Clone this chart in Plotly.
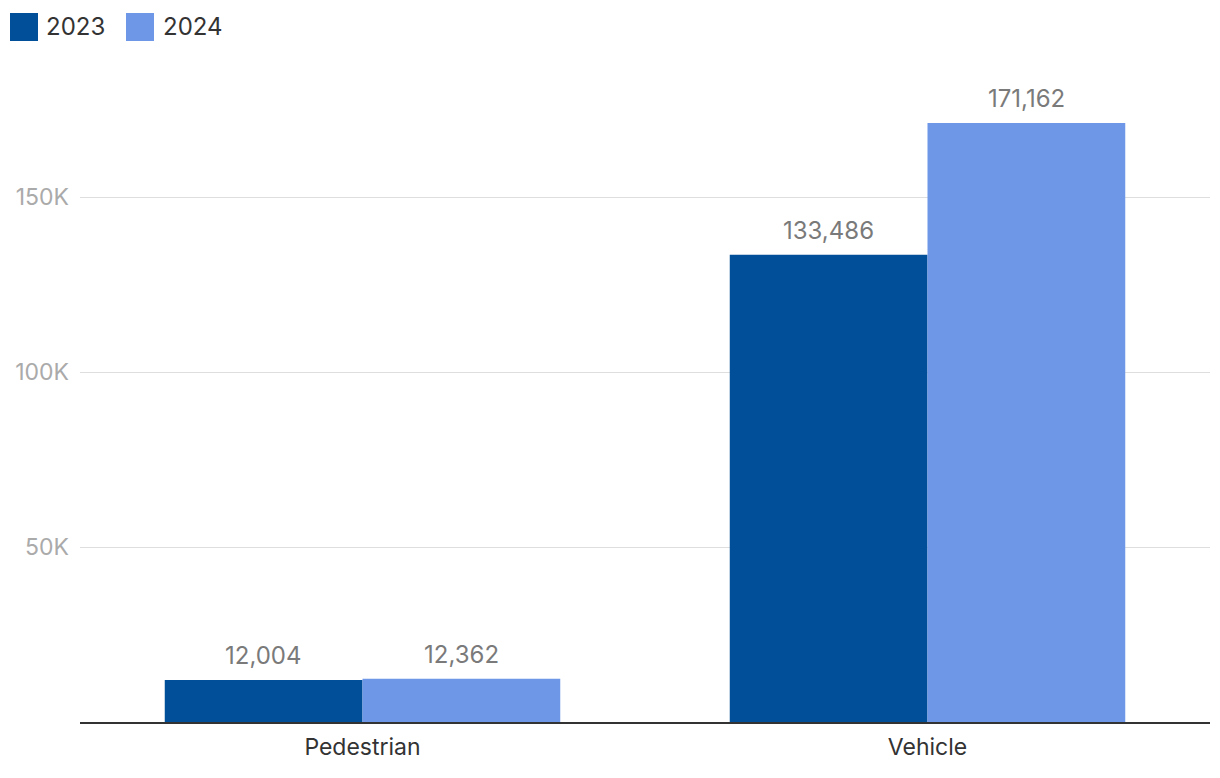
import plotly.graph_objects as go

categories = ["Pedestrian", "Vehicle"]
series_names = ["2023", "2024"]
values_2023 = [12004, 133486]
values_2024 = [12362, 171162]
tick_values = [50000, 100000, 150000]
tick_labels = ["50K", "100K", "150K"]

colors = ["#004F98", "#6E97E8"]
FONT = "Inter, Noto Sans, sans-serif"

# page body adds an 8px offset; work in reference coords minus 8
OFF = 8
W, H = 1220 - 2 * OFF, 778 - 2 * OFF
ML, MR = 80 - OFF, 2
MT, MB = 92 - OFF, H - (722 - OFF)
plot_w = W - ML - MR
plot_h = H - MT - MB

fig = go.Figure()
all_vals = [values_2023, values_2024]
for name, vals, col in zip(series_names, all_vals, colors):
    fig.add_trace(go.Bar(name=name, x=categories, y=vals, marker_color=col,
                         marker_line_width=0, showlegend=False,
                         hoverinfo="x+y"))

bargap = 0.3
bar_w_px = plot_w / len(categories) * (1 - bargap) / len(series_names)
annotations = []
for i, vals in enumerate(all_vals):
    shift = (i - (len(series_names) - 1) / 2) * bar_w_px
    for c, v in zip(categories, vals):
        annotations.append(dict(x=c, y=v, xref="x", yref="y", text=f"{v:,}",
                                showarrow=False, yanchor="bottom", xshift=shift,
                                yshift=8, font=dict(family=FONT, size=24, color="#7a7a7a")))

# custom legend (reference pixel coords)
def px2paper(px, py):
    return (px - OFF - ML) / plot_w, (H - MB - (py - OFF)) / plot_h

shapes = []
legend_items = [(10, 44), (126, 161)]
for (sx, tx), name, col in zip(legend_items, series_names, colors):
    x0, y0 = px2paper(sx, 41)
    x1, y1 = px2paper(sx + 28, 13)
    shapes.append(dict(type="rect", xref="paper", yref="paper", x0=x0, x1=x1,
                       y0=y0, y1=y1, fillcolor=col, line_width=0))
    ax, ay = px2paper(tx, 27)
    annotations.append(dict(x=ax, y=ay, xref="paper", yref="paper", text=name,
                            showarrow=False, xanchor="left", yanchor="middle",
                            font=dict(family=FONT, size=24, color="#333333")))

fig.update_layout(
    width=W, height=H,
    margin=dict(l=ML, r=MR, t=MT, b=MB, pad=0),
    paper_bgcolor="white", plot_bgcolor="white",
    barmode="group", bargap=bargap, bargroupgap=0,
    font=dict(family=FONT),
    annotations=annotations, shapes=shapes,
    showlegend=False,
    xaxis=dict(showgrid=False, showline=True, linecolor="#333333", linewidth=1.5,
               ticks="", tickfont=dict(family=FONT, size=23, color="#333333"),
               ticklabelstandoff=4),
    yaxis=dict(range=[0, 180000], tickvals=tick_values, ticktext=tick_labels,
               showgrid=True, gridcolor="#dedede", gridwidth=1, zeroline=False,
               showline=False, ticks="",
               tickfont=dict(family=FONT, size=23, color="#aaaaaa"),
               ticklabelstandoff=10),
)

fig.write_html("out.html")
